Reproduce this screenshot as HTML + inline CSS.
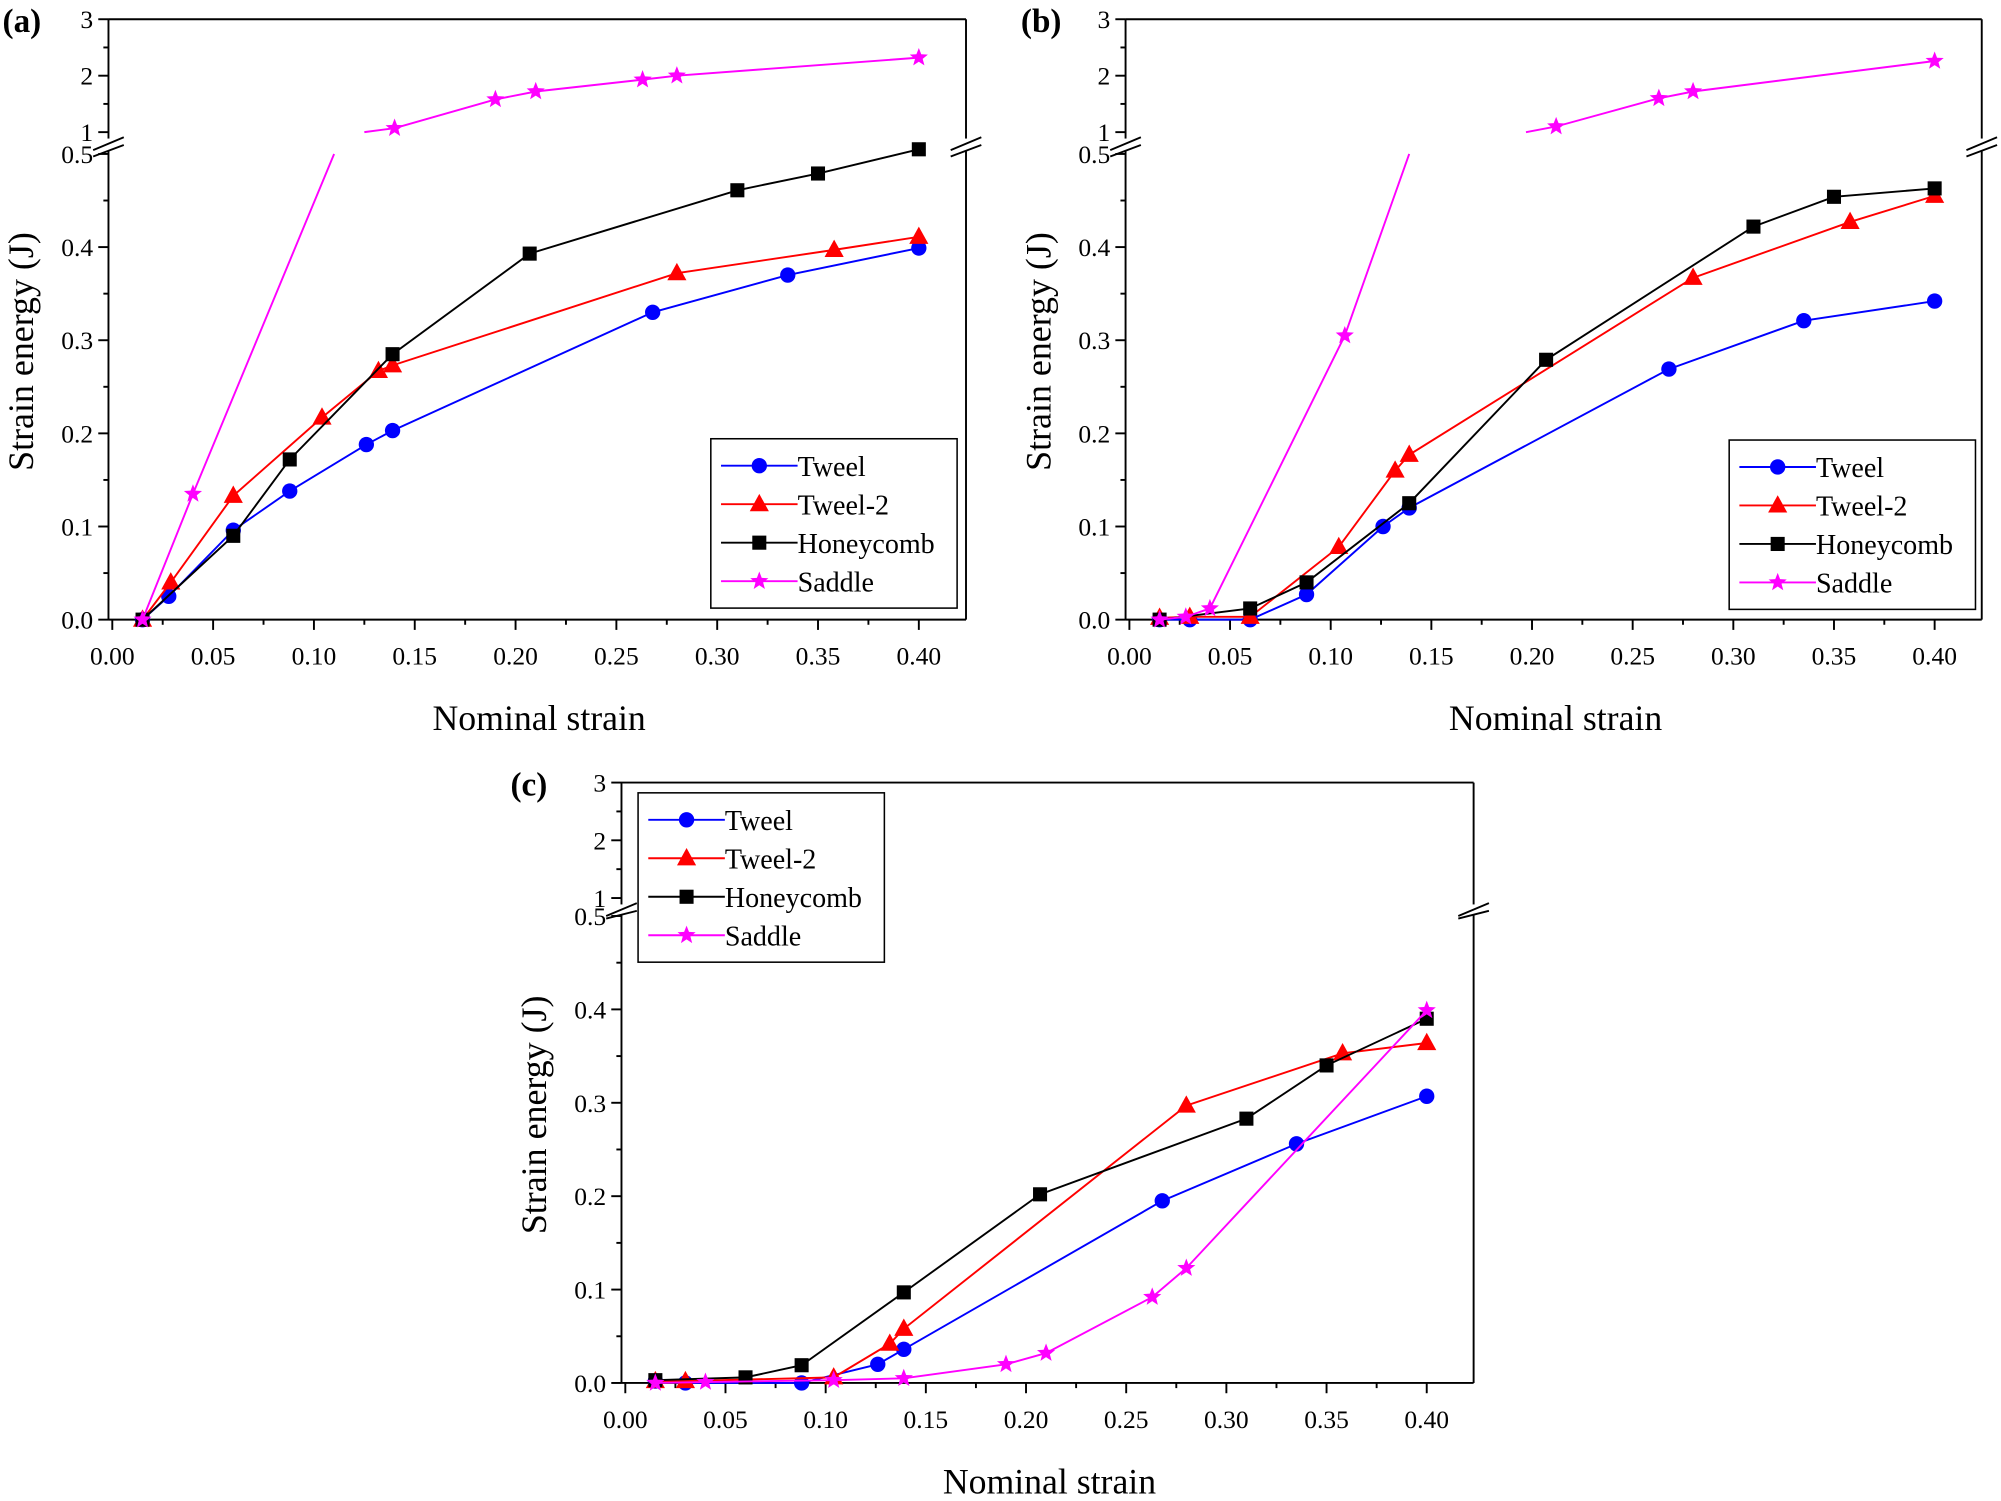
<!DOCTYPE html>
<html><head><meta charset="utf-8"><style>
html,body{margin:0;padding:0;background:#fff}
svg{display:block}
text{font-family:"Liberation Serif",serif;fill:#000}
</style></head><body>
<svg id="s" width="2001" height="1501" viewBox="0 0 1568 1170" preserveAspectRatio="none" xmlns="http://www.w3.org/2000/svg"></svg>
<script>
const S=document.getElementById('s');let h='';
function P(o){
 const {x0,x1,y0,y5,yTop,y1,label,ox,oy,legend,data}=o;
 const fx=v=>x0+(x1-x0)*v/0.4, fy=v=>y0+(y5-y0)*v/0.5;
 const fu=v=>y1+(v-1)*(yTop-y1)/2;
 const xr=fx(0.4234), xl=x0-3;
 h+=`<line x1="${xl}" y1="${yTop}" x2="${xr}" y2="${yTop}" stroke="#000" stroke-width="1.5"/>`;
 h+=`<line x1="${xl}" y1="${y0}" x2="${xr}" y2="${y0}" stroke="#000" stroke-width="1.5"/>`;
 [xl,xr].forEach(x=>{
  h+=`<line x1="${x}" y1="${y0}" x2="${x}" y2="${y5-2}" stroke="#000" stroke-width="1.5"/>`;
  h+=`<line x1="${x}" y1="${y1+6}" x2="${x}" y2="${yTop}" stroke="#000" stroke-width="1.5"/>`;
  h+=`<rect x="${x-12}" y="${y1+5}" width="24" height="8" fill="#fff"/>`;
  h+=`<line x1="${x-12}" y1="${y1+14}" x2="${x+12}" y2="${y1+4}" stroke="#000" stroke-width="1.5"/>`;
  h+=`<line x1="${x-12}" y1="${y5+2}" x2="${x+12}" y2="${y1+10}" stroke="#000" stroke-width="1.5"/>`;
 });
 for(let i=0;i<=10;i++){const v=i*0.05,y=fy(v),len=i%2?4:8;
  h+=`<line x1="${xl-len}" y1="${y}" x2="${xl}" y2="${y}" stroke="#000" stroke-width="1.5"/>`;
  if(i%2==0)h+=`<text x="${xl-12}" y="${y+7}" font-size="20" text-anchor="end">${(v).toFixed(1)}</text>`;}
 for(let i=0;i<=4;i++){const v=1+i*0.5,y=fu(v),len=i%2?4:8;
  h+=`<line x1="${xl-len}" y1="${y}" x2="${xl}" y2="${y}" stroke="#000" stroke-width="1.5"/>`;
  if(i%2==0)h+=`<text x="${xl-12}" y="${y+7}" font-size="20" text-anchor="end">${v}</text>`;}
 for(let i=0;i<=16;i++){const v=i*0.025,x=fx(v),len=i%2?4:8;
  h+=`<line x1="${x}" y1="${y0}" x2="${x}" y2="${y0+len}" stroke="#000" stroke-width="1.5"/>`;
  if(i%2==0)h+=`<text x="${x}" y="${y0+35}" font-size="20" text-anchor="middle">${v.toFixed(2)}</text>`;}
 h+=`<text x="${(x0+xr)/2}" y="${y0+86}" font-size="28" text-anchor="middle">Nominal strain</text>`;
 h+=`<text transform="translate(${x0-62},${(y0+yTop)/2+25}) rotate(-90)" font-size="28" text-anchor="middle">Strain energy (J)</text>`;
 h+=`<text x="${ox}" y="${oy}" font-size="26" font-weight="bold">${label}</text>`;
 const cols=['#0000ff','#ff0000','#000','#ff00ff'];
 function mk(t,x,y,c){
  if(t==0)return `<circle cx="${x}" cy="${y}" r="6" fill="${c}"/>`;
  if(t==1)return `<polygon points="${x},${y-8} ${x-7.5},${y+5.5} ${x+7.5},${y+5.5}" fill="${c}"/>`;
  if(t==2)return `<rect x="${x-5.5}" y="${y-5.5}" width="11" height="11" fill="${c}"/>`;
  let p=[];for(let k=0;k<10;k++){const r=k%2?3.2:7.5,a=-Math.PI/2+k*Math.PI/5;p.push((x+r*Math.cos(a)).toFixed(1)+','+(y+r*Math.sin(a)).toFixed(1));}
  return `<polygon points="${p.join(' ')}" fill="${c}"/>`;
 }
 data.forEach((d,t)=>{const c=cols[t];
  d.segs.forEach(seg=>{const pts=seg.map(([a,b,u])=>fx(a)+','+(u?fu(b):fy(b)));
   h+=`<polyline points="${pts.join(' ')}" fill="none" stroke="${c}" stroke-width="1.5"/>`;});
  d.m.forEach(([a,b,u])=>{h+=mk(t,fx(a),u?fu(b):fy(b),c);});
 });
 const [lx,ly]=legend;const names=['Tweel','Tweel-2','Honeycomb','Saddle'];
 h+=`<rect x="${lx}" y="${ly}" width="193" height="132" fill="#fff" stroke="#000" stroke-width="1.2"/>`;
 names.forEach((n,i)=>{const y=ly+21+i*30;
  h+=`<line x1="${lx+8}" y1="${y}" x2="${lx+68}" y2="${y}" stroke="${cols[i]}" stroke-width="1.5"/>`;
  h+=mk(i,lx+38,y,cols[i]);
  h+=`<text x="${lx+68}" y="${y+8}" font-size="22">${n}</text>`;});
}
function L(a){return {segs:[a],m:a};}
P({x0:88,x1:720,y0:483,y5:120,yTop:15,y1:103,label:'(a)',ox:2,oy:25,legend:[557,342],data:[
 L([[0.015,0],[0.028,0.025],[0.06,0.096],[0.088,0.138],[0.126,0.188],[0.139,0.203],[0.268,0.33],[0.335,0.37],[0.4,0.399]]),
 L([[0.015,0],[0.029,0.04],[0.06,0.133],[0.104,0.217],[0.132,0.267],[0.139,0.273],[0.28,0.372],[0.358,0.397],[0.4,0.411]]),
 L([[0.015,0],[0.06,0.09],[0.088,0.172],[0.139,0.285],[0.207,0.393],[0.31,0.461],[0.35,0.479],[0.4,0.505]]),
 {segs:[[[0.015,0],[0.04,0.135],[0.11,0.5]],[[0.125,1,1],[0.14,1.07,1],[0.19,1.58,1],[0.21,1.72,1],[0.263,1.93,1],[0.28,2.0,1],[0.4,2.32,1]]],
  m:[[0.015,0],[0.04,0.135],[0.14,1.07,1],[0.19,1.58,1],[0.21,1.72,1],[0.263,1.93,1],[0.28,2.0,1],[0.4,2.32,1]]}
]});
P({x0:885,x1:1516,y0:483,y5:120,yTop:15,y1:103,label:'(b)',ox:800,oy:25,legend:[1355,343],data:[
 L([[0.015,0],[0.03,0],[0.06,0],[0.088,0.027],[0.126,0.1],[0.139,0.12],[0.268,0.269],[0.335,0.321],[0.4,0.342]]),
 L([[0.015,0.002],[0.03,0.003],[0.06,0.003],[0.104,0.078],[0.132,0.16],[0.139,0.177],[0.28,0.367],[0.358,0.427],[0.4,0.455]]),
 L([[0.015,0],[0.06,0.012],[0.088,0.04],[0.139,0.125],[0.207,0.279],[0.31,0.422],[0.35,0.454],[0.4,0.463]]),
 {segs:[[[0.015,0],[0.028,0.003],[0.04,0.012],[0.107,0.305],[0.139,0.5]],[[0.197,1,1],[0.212,1.1,1],[0.263,1.6,1],[0.28,1.72,1],[0.4,2.26,1]]],
  m:[[0.015,0],[0.028,0.003],[0.04,0.012],[0.107,0.305],[0.212,1.1,1],[0.263,1.6,1],[0.28,1.72,1],[0.4,2.26,1]]}
]});
P({x0:490,x1:1118,y0:1078,y5:714,yTop:610,y1:700,label:'(c)',ox:400,oy:620,legend:[500,618],data:[
 L([[0.015,0.002],[0.03,0],[0.088,0],[0.126,0.02],[0.139,0.036],[0.268,0.195],[0.335,0.256],[0.4,0.307]]),
 L([[0.015,0.002],[0.03,0.002],[0.104,0.006],[0.132,0.042],[0.139,0.058],[0.28,0.297],[0.358,0.353],[0.4,0.364]]),
 L([[0.015,0.003],[0.06,0.006],[0.088,0.019],[0.139,0.097],[0.207,0.202],[0.31,0.283],[0.35,0.34],[0.4,0.39]]),
 L([[0.015,0],[0.04,0.001],[0.104,0.003],[0.139,0.005],[0.19,0.02],[0.21,0.032],[0.263,0.092],[0.28,0.123],[0.4,0.399]])
]});
S.innerHTML=h;
</script>
</body></html>
